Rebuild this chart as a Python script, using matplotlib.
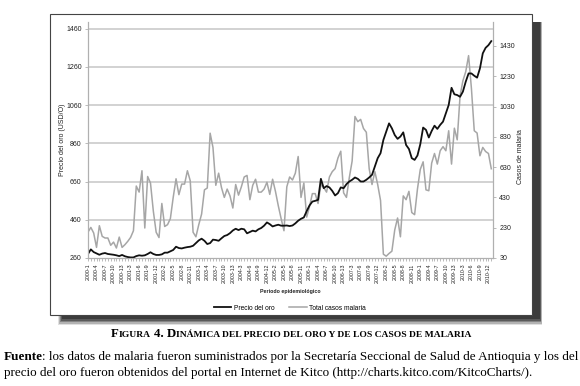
import matplotlib
matplotlib.use('Agg')
import matplotlib.pyplot as plt
from matplotlib.patches import Rectangle
from matplotlib.lines import Line2D

plt.rcParams['font.family'] = ['Liberation Sans', 'DejaVu Sans']

# periodos epidemiologicos: 13 por año, 2000-1 ... 2010-13
periodos = [f"{a}-{p}" for a in range(2000, 2011) for p in range(1, 14)]

precio_oro = [
    281, 305, 291, 284, 277, 283, 286, 281, 279, 277, 274, 270, 276,
    269, 265, 263, 263, 270, 274, 272, 274, 281, 290, 281, 276, 276,
    279, 288, 288, 295, 302, 319, 312, 310, 314, 317, 319, 324, 338,
    352, 361, 350, 333, 338, 356, 354, 350, 363, 375, 380, 390, 404,
    413, 406, 413, 410, 389, 396, 403, 399, 410, 417, 429, 446, 437,
    425, 430, 434, 429, 429, 430, 427, 430, 441, 455, 465, 472, 505,
    535, 555, 559, 564, 674, 625, 636, 629, 611, 587, 599, 629, 625,
    646, 660, 669, 681, 674, 660, 660, 669, 681, 695, 738, 782, 808,
    877, 921, 964, 938, 903, 883, 895, 917, 851, 830, 782, 773, 796,
    855, 942, 930, 890, 924, 952, 935, 956, 973, 1016, 1060, 1150, 1116,
    1112, 1103, 1130, 1182, 1225, 1225, 1213, 1203, 1251, 1330, 1359, 1373, 1394]

casos_malaria = [
    201, 232, 195, 100, 243, 173, 162, 162, 114, 135, 96, 168, 100,
    118, 140, 166, 210, 505, 465, 606, 228, 568, 525, 340, 200, 165,
    390, 238, 250, 290, 430, 553, 448, 518, 518, 606, 540, 200, 170,
    250, 320, 480, 492, 854, 760, 510, 590, 495, 430, 485, 440, 360,
    515, 445, 500, 565, 575, 415, 510, 550, 465, 465, 485, 530, 450,
    550, 470, 375, 290, 210, 500, 565, 545, 590, 700, 430, 525, 300,
    370, 455, 455, 390, 515, 495, 465, 565, 600, 620, 690, 735, 460,
    430, 560, 670, 964, 930, 945, 885, 860, 620, 515, 600, 515, 410,
    55, 42, 60, 75, 215, 294, 170, 440, 415, 470, 330, 316, 485,
    615, 665, 480, 474, 656, 720, 650, 738, 765, 738, 870, 650, 887,
    810, 1100, 1200, 1260, 1366, 1150, 870, 855, 705, 760, 733, 720, 619]

ticks_oro = [260, 460, 660, 860, 1060, 1260, 1460]
ticks_casos = [30, 230, 430, 630, 830, 1030, 1230, 1430]

W, H = 580, 386
fig = plt.figure(figsize=(W / 100, H / 100), dpi=100)


def fx(x):
    return x / W


def fy(y):
    return 1 - y / H


# sombra y marco del grafico
for k, a in enumerate([0.15, 0.25, 0.35, 0.5, 0.7]):
    d = 10 - k * 1.5
    fig.patches.append(Rectangle((fx(58 + k), fy(315 + d)), fx(532 - 58 + d), fy(22) - fy(315 + d),
                                 transform=fig.transFigure, facecolor='#303030', edgecolor='none',
                                 alpha=a, zorder=-3))
fig.patches.append(Rectangle((fx(50), fy(315)), fx(482), fy(14) - fy(315), transform=fig.transFigure,
                             facecolor='white', edgecolor='#444444', lw=0.8, zorder=-1))

ax = fig.add_axes([fx(88), fy(258), fx(405), fy(22) - fy(258)])
ax2 = ax.twinx()
ax.set_zorder(1)
ax.patch.set_visible(False)

x = list(range(len(periodos)))
ax2.hlines(ticks_oro[1:], 0, 1, transform=ax.get_yaxis_transform(), color='#c6c6c6', lw=1.1, zorder=0.5)
ax2.plot(x, casos_malaria, color='#a6a6a6', lw=1.1, zorder=2)
ax.plot(x, precio_oro, color='#111111', lw=1.3, zorder=2)

ax.set_xlim(0, 142.6)
ax.set_ylim(260, 1494)
ax2.set_ylim(30, 1588)
ax.set_yticks(ticks_oro)
ax2.set_yticks(ticks_casos)
ax.set_xticks(x[::3])
ax.set_xticklabels(periodos[::3], rotation=90, fontsize=3.8)
ax.set_xticks(x, minor=True)

for a in (ax, ax2):
    for s in a.spines.values():
        s.set_color('#b0b0b0')
        s.set_linewidth(0.8)
    a.spines['top'].set_visible(False)
    a.tick_params(axis='both', which='both', colors='#b0b0b0', labelcolor='#222222',
                  labelsize=5, length=2.5, width=0.6, pad=2)
ax.tick_params(axis='x', which='both', labelsize=3.8, pad=1.5)
ax.tick_params(axis='x', which='minor', length=2)

fig.text(fx(290), fy(292), 'Periodo epidemiológico', ha='center', va='center', fontsize=3.8,
         fontweight='bold', color='#222222')
fig.text(fx(62), fy(140), 'Precio del oro (USD/O)', rotation=90, ha='center', va='center',
         fontsize=5, color='#222222')
fig.text(fx(521), fy(157), 'Casos de malaria', rotation=90, ha='center', va='center',
         fontsize=5, color='#222222')

handles = [Line2D([], [], color='#111111', lw=1.3), Line2D([], [], color='#a6a6a6', lw=1.1)]
fig.legend(handles, ['Precio del oro', 'Total casos malaria'], loc='center',
           bbox_to_anchor=(fx(290), fy(308)), ncol=2, frameon=False, fontsize=4.8,
           handlelength=2.6, columnspacing=2.2, handletextpad=0.4)

# pie de figura (versalitas simuladas)
renderer = fig.canvas.get_renderer()
serif = ['Liberation Serif', 'DejaVu Serif']
trozos = [('F', 9.3), ('IGURA', 6.8), (' ', 6.8), ('4. D', 9.3),
          ('INÁMICA DEL PRECIO DEL ORO Y DE LOS CASOS DE MALARIA', 6.8)]
textos = []
for s, size in trozos:
    t = fig.text(0, fy(337), s if s != ' ' else '\u00a0', fontsize=size, family=serif,
                 fontweight='bold', ha='left', va='baseline')
    textos.append(t)
anchos = [t.get_window_extent(renderer).width for t in textos]
anchos[2] = 3.5
xpos = 291 - sum(anchos) / 2
for t, w in zip(textos, anchos):
    t.set_x(fx(xpos))
    xpos += w

t1 = fig.text(fx(4), fy(360), 'Fuente', fontsize=9.45, family=serif, fontweight='bold',
              ha='left', va='baseline')
w1 = t1.get_window_extent(renderer).width
fig.text(fx(4 + w1 - 1), fy(360), ': los datos de malaria fueron suministrados por la Secretaría '
         'Seccional de Salud de Antioquia y los del', fontsize=9.45, family=serif,
         ha='left', va='baseline')
fig.text(fx(4), fy(376), 'precio del oro fueron obtenidos del portal en Internet de Kitco '
         '(http://charts.kitco.com/KitcoCharts/).', fontsize=9.45, family=serif,
         ha='left', va='baseline')

fig.savefig('out.png', dpi=100)
